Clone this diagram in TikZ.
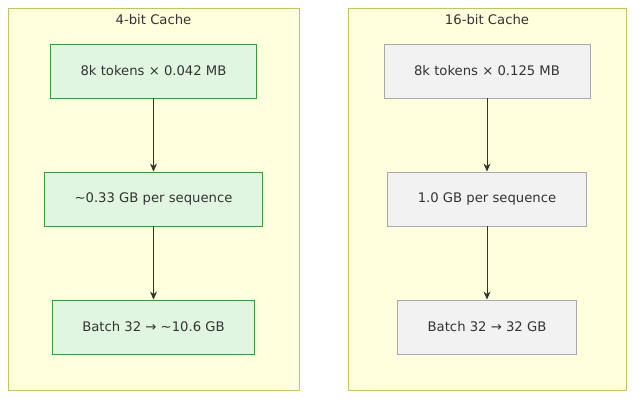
\documentclass[tikz,border=0pt]{standalone}
\usepackage{fontspec}
\setmainfont{DejaVu Sans}
\usetikzlibrary{arrows.meta,positioning}
\definecolor{clusterfill}{HTML}{FFFFDE}
\definecolor{clusterline}{HTML}{C4C45A}
\definecolor{greenfill}{HTML}{E0F6E0}
\definecolor{greenline}{HTML}{3C9A3C}
\definecolor{grayfill}{HTML}{F2F2F2}
\definecolor{grayline}{HTML}{AAAAAA}
\definecolor{inkgray}{HTML}{333333}

\begin{document}
\begin{tikzpicture}[x=1pt, y=1pt, node distance=128pt,
    font=\fontsize{13.2}{15}\selectfont, text=inkgray,
    cluster/.style={draw=clusterline, fill=clusterfill, line width=0.9pt},
    quant/.style={draw=greenline, fill=greenfill, line width=0.9pt, minimum height=54pt, inner xsep=30pt},
    full/.style={draw=grayline, fill=grayfill, line width=0.9pt, minimum height=54pt, inner xsep=30pt},
    flow/.style={-{Stealth[length=8pt,width=7pt]}, draw=inkgray, line width=0.8pt}]
    \useasboundingbox (0,0) rectangle (642,403);
    % clusters
    \draw [cluster] (8,13) rectangle (299,395);
    \draw [cluster] (348,13) rectangle (626,395);
    \node (lefttitle) at (153.5,383) {4-bit Cache};
    \node (righttitle) at (487,383) {16-bit Cache};
    % 4-bit chain
    \node [quant] (q1) at (153.5,332) {8k tokens × 0.042 MB};
    \node [quant] (q2) [below of=q1] {\textasciitilde 0.33 GB per sequence};
    \node [quant] (q3) [below of=q2] {Batch 32 → \textasciitilde 10.6 GB};
    % 16-bit chain
    \node [full] (f1) at (487,332) {8k tokens × 0.125 MB};
    \node [full] (f2) [below of=f1] {1.0 GB per sequence};
    \node [full] (f3) [below of=f2] {Batch 32 → 32 GB};
    \draw [flow] (q1) -- (q2);
    \draw [flow] (q2) -- (q3);
    \draw [flow] (f1) -- (f2);
    \draw [flow] (f2) -- (f3);
\end{tikzpicture}
\end{document}
